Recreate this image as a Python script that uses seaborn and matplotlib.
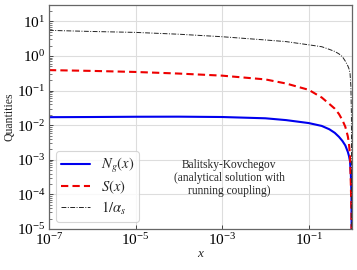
import numpy as np
import pandas as pd
import matplotlib
matplotlib.use("Agg")
import matplotlib.pyplot as plt
import seaborn as sns
from matplotlib.ticker import LogLocator, NullLocator, LogFormatterMathtext

# ---- data ----
x_vals = [1e-7, 1e-6, 1e-5, 1e-4, 1e-3, 1e-2, 3e-2, 0.1, 0.2, 0.3, 0.4, 0.5,
          0.6, 0.7, 0.8, 0.85, 0.9, 0.94, 0.97, 0.99, 1.0]
Ng_vals = [0.0170, 0.0172, 0.0175, 0.0176, 0.0172, 0.0158, 0.0140, 0.0115,
           0.0095, 0.0076, 0.0060, 0.0046, 0.0035, 0.0026, 0.0017, 0.0013,
           0.0009, 0.0004, 0.0001, 1e-6, 1e-8]
S_vals = [0.39, 0.37, 0.345, 0.31, 0.27, 0.21, 0.16, 0.105, 0.063, 0.041,
          0.030, 0.021, 0.014, 0.0090, 0.0048, 0.0030, 0.0013, 0.0002,
          3e-5, 1e-7, 1e-8]
inv_alpha_vals = [5.5, 5.1, 4.8, 4.25, 3.6, 2.9, 2.6, 2.1, 1.85, 1.55, 1.35,
                  1.15, 0.95, 0.71, 0.52, 0.43, 0.32, 0.14, 0.02, 1e-6, 1e-8]
labels = [r"$N_g(x)$", r"$S(x)$", r"$1/\alpha_s$"]
x_ticks = [1e-7, 1e-5, 1e-3, 1e-1]
annotation = "Balitsky-Kovchegov\n(analytical solution with\nrunning coupling)"

sns.set_style("whitegrid")
plt.rcParams["font.family"] = ["Liberation Serif", "DejaVu Serif"]
plt.rcParams["mathtext.fontset"] = "stix"

fig = plt.figure(figsize=(3.57, 2.70), dpi=100)
ax = fig.add_axes([0.137, 0.152, 0.849, 0.830])

df = pd.DataFrame({"x": x_vals, "Ng": Ng_vals, "S": S_vals, "ia": inv_alpha_vals})
ax.set_xscale("log")
ax.set_yscale("log")
sns.lineplot(data=df, x="x", y="Ng", ax=ax, color="#0000ee", lw=1.5,
             label=labels[0], estimator=None, sort=False)
sns.lineplot(data=df, x="x", y="S", ax=ax, color="#ee0000", lw=1.5,
             linestyle=(0, (3.5, 2)), label=labels[1], estimator=None, sort=False)
sns.lineplot(data=df, x="x", y="ia", ax=ax, color="#222222", lw=0.7,
             linestyle=(0, (5, 1.5, 1, 1.5)), label=labels[2], estimator=None, sort=False)

ax.set_xlim(1e-7, 1.0)
ax.set_ylim(1e-5, 30)
ax.set_xticks(x_ticks)
ax.xaxis.set_major_formatter(LogFormatterMathtext())
ax.xaxis.set_minor_locator(NullLocator())
ax.yaxis.set_major_locator(LogLocator(base=10, numticks=20))
ax.yaxis.set_minor_locator(LogLocator(base=10, subs=np.arange(2, 10), numticks=20))
ax.yaxis.set_major_formatter(LogFormatterMathtext())

ax.grid(True, which="major", color="#dddddd", lw=0.8)
ax.tick_params(axis="both", which="major", direction="in", length=3, width=0.7,
               labelsize=11, colors="#444444", labelcolor="black", left=True,
               bottom=True, pad=2.5)
ax.tick_params(axis="y", which="minor", direction="in", length=1.8, width=0.5,
               colors="#444444", left=True)
for s in ax.spines.values():
    s.set_color("#666666")
    s.set_linewidth(0.9)

ax.set_xlabel("x", fontsize=9.5, style="italic", labelpad=0)
ax.set_ylabel("Quantities", fontsize=8.5, labelpad=1)

leg = ax.legend(loc="lower left", fontsize=10.5, frameon=True, handlelength=2.0,
                borderaxespad=0.5, labelspacing=0.25, borderpad=0.35,
                handletextpad=0.7)
leg.get_frame().set_edgecolor("#cccccc")
leg.get_frame().set_linewidth(0.8)

ax.text(0.594, 0.228, annotation, transform=ax.transAxes, ha="center", va="center",
        fontsize=8.3, linespacing=1.15)

fig.savefig("out.png", dpi=100)
